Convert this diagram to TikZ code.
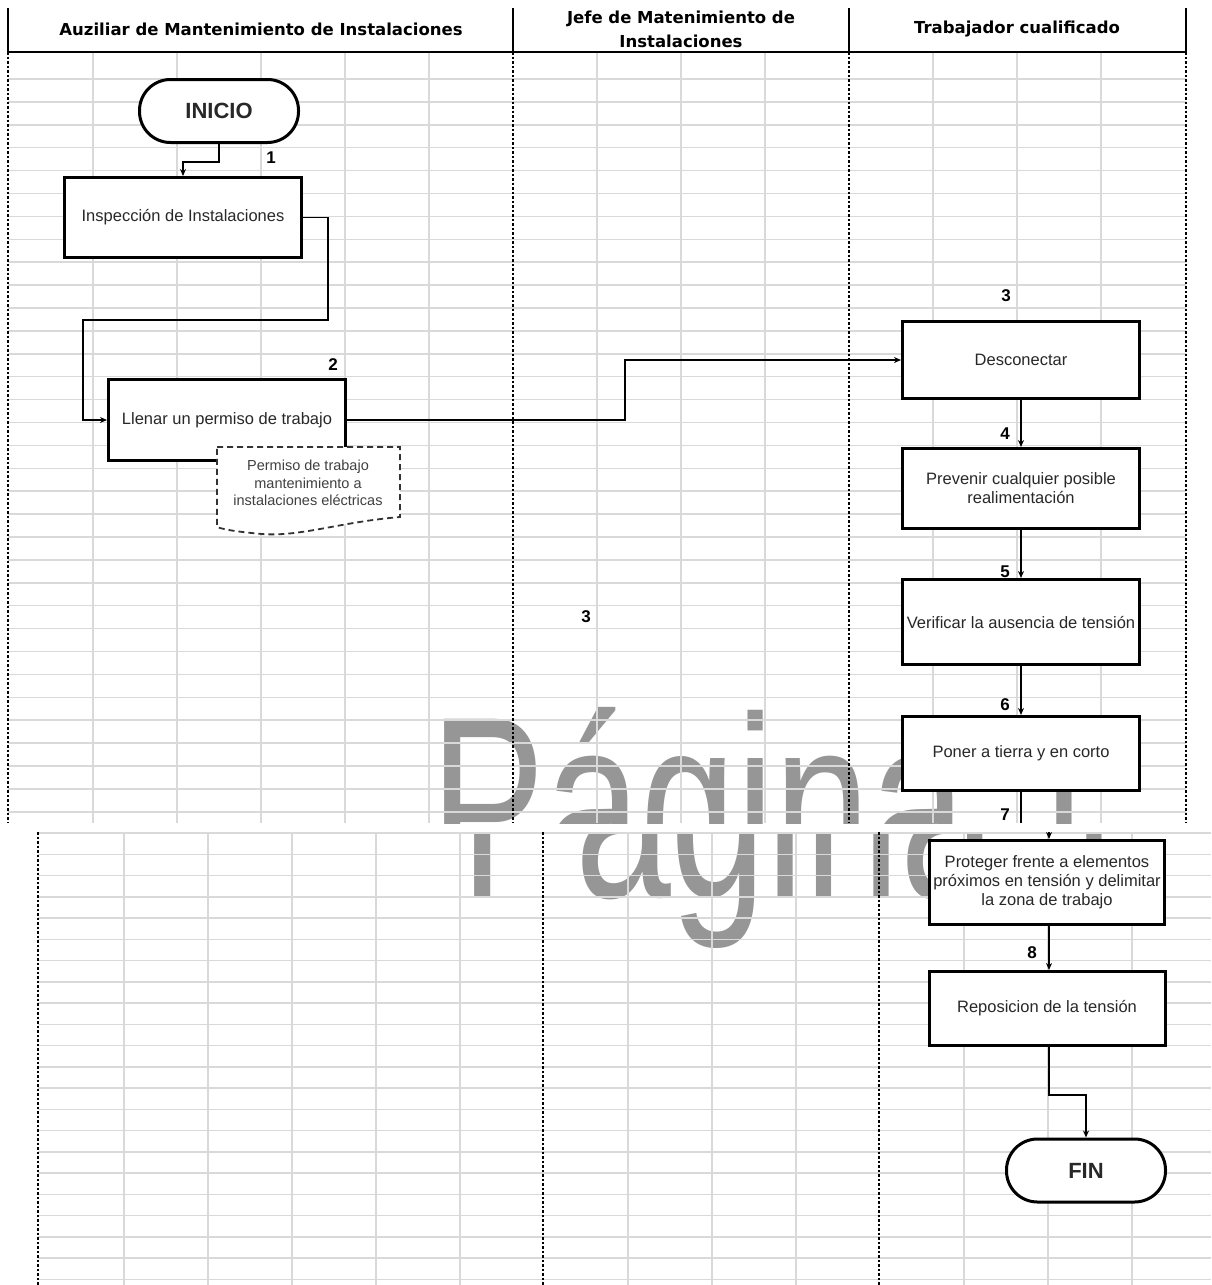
\documentclass[tikz,border=0pt]{standalone}
\usepackage{fontspec}
\setmainfont{Liberation Sans}
\newfontfamily\hdrfont{DejaVu Sans}
\usetikzlibrary{arrows.meta}
\definecolor{gridc}{RGB}{217,217,217}
\definecolor{wmark}{RGB}{150,150,150}
\definecolor{txt}{RGB}{40,40,40}
\tikzset{
  stepbox/.style={draw, line width=3pt, fill=white, inner sep=2pt, align=center,
    font=\fontsize{16.5}{19}\selectfont, text=txt},
  term/.style={draw, line width=3pt, rounded corners=31pt, fill=white,
    minimum width=159pt, minimum height=63pt, font=\fontsize{22}{24}\selectfont\bfseries, text=txt},
  conn/.style={line width=1.5pt, -{Stealth[length=7pt,width=6pt]}},
  plainconn/.style={line width=1.5pt},
  num/.style={font=\fontsize{17}{18}\selectfont\bfseries},
  lane/.style={line width=2pt, dash pattern=on 2.5pt off 2pt},
  gridl/.style={gridc, line width=1.5pt},
  hdr/.style={font=\hdrfont\bfseries\fontsize{16.5}{24}\selectfont, align=center},
  wm/.style={font=\fontsize{246}{246}\selectfont, text=wmark, xscale=0.7, anchor=base west, inner sep=0pt}
}
\begin{document}
\begin{tikzpicture}[x=1pt,y=-1pt]
\useasboundingbox (0,0) rectangle (1211,1285);
\fill[white] (0,0) rectangle (1211,1285);

% ---------- top part ----------
\begin{scope}
  \clip (0,0) rectangle (1211,823);
  \node[wm] (wmtop) at (430,888) {Página 1};
\end{scope}
\foreach \x in {93,177,261,345,429,597,681,765,933,1017,1101}
  \draw[gridl] (\x,52) -- (\x,823);
\foreach \k in {0,...,32}
  \draw[gridl] (8,{79+22.9*\k}) -- (1186,{79+22.9*\k});
\foreach \x in {8,513,849,1186}
  \draw[lane] (\x,52) -- (\x,823);

% ---------- bottom part ----------
\begin{scope}
  \clip (0,832) rectangle (1211,1285);
  \node[wm] (wmbot) at (460,897) {Página 1};
\end{scope}
\foreach \x in {124,208,292,376,460,628,712,796,964,1048,1132}
  \draw[gridl] (\x,832) -- (\x,1285);
\foreach \k in {0,...,21}
  \draw[gridl] (38,{833+21.25*\k}) -- (1211,{833+21.25*\k});
\foreach \x in {38,543,879}
  \draw[lane] (\x,832) -- (\x,1285);

% ---------- header ----------
\foreach \x in {8,513,849,1186}
  \draw[line width=2pt] (\x,8) -- (\x,52);
\draw[line width=2.4pt] (8,52) -- (1186,52);
\node[hdr] (h1) at (261,29) {Auziliar de Mantenimiento de Instalaciones};
\node[hdr] (h2) at (681,29) {Jefe de Matenimiento de\\Instalaciones};
\node[hdr] (h3) at (1017,29) {Trabajador cualificado};

% ---------- nodes ----------
\node[term] (inicio) at (219,111) {INICIO};
\node[stepbox, minimum width=237pt, minimum height=80pt] (b1) at (183,217.5) {Inspección de Instalaciones};
\node[stepbox, minimum width=237pt, minimum height=81pt] (b2) at (227,420) {Llenar un permiso de trabajo};
\draw[line width=1.8pt, dash pattern=on 6pt off 4pt, draw=black!80, fill=white]
  (217,447) -- (400,447) -- (400,517)
  .. controls (340,522) and (300,537) .. (262,534)
  .. controls (240,532) and (225,530) .. (217,527) -- cycle;
\node[align=center, font=\fontsize{14.5}{17.5}\selectfont, text=black!75] (doc) at (308,483)
  {Permiso de trabajo\\mantenimiento a\\instalaciones eléctricas};

\node[stepbox, minimum width=237pt, minimum height=77pt] (b3) at (1021,360) {Desconectar};
\node[stepbox, minimum width=237pt, minimum height=80pt] (b4) at (1021,488.5) {Prevenir cualquier posible\\realimentación};
\node[stepbox, minimum width=237pt, minimum height=85pt, inner sep=0pt] (b5) at (1021,622) {Verificar la ausencia de tensión};
\node[stepbox, minimum width=237pt, minimum height=74pt] (b6) at (1021,753.5) {Poner a tierra y en corto};
\node[stepbox, minimum width=235pt, minimum height=84pt, inner sep=0pt] (b7) at (1047,882.5) {Proteger frente a elementos\\próximos en tensión y delimitar\\la zona de trabajo};
\node[stepbox, minimum width=236pt, minimum height=74pt] (b8) at (1047,1008.5) {Reposicion de la tensión};
\node[term] (fin) at (1086,1170.5) {FIN};

% ---------- numbers ----------
\node[num] (n1) at (271,158) {1};
\node[num] (n2) at (333,365) {2};
\node[num] (n3) at (1006,296) {3};
\node[num] (n3b) at (586,617) {3};
\node[num] (n4) at (1005,434) {4};
\node[num] (n5) at (1005,572) {5};
\node[num] (n6) at (1005,705) {6};
\node[num] (n7) at (1005,815) {7};
\node[num] (n8) at (1032,953) {8};

% ---------- connectors ----------
\draw[conn] (inicio.south) -- ++(0,18) -| (b1.north);
\draw[conn] (b1.east) -- ++(25,0) |- (83,320) |- (b2.west);
\draw[conn] (b2.east) -- (625,420) |- (b3.west);
\draw[conn] (b3.south) -- (b4.north);
\draw[conn] (b4.south) -- (b5.north);
\draw[conn] (b5.south) -- (b6.north);
\coordinate (gaptop) at (1021,823);
\coordinate (gapbot) at (1049,832);
\draw[plainconn] (b6.south) -- (gaptop);
\draw[conn] (gapbot) -- (gapbot |- b7.north);
\draw[conn] (b7.south -| 1049,0) -- (b8.north -| 1049,0);
\draw[conn] (b8.south -| 1049,0) -- ++(0,48) -| (fin.north);
\end{tikzpicture}
\end{document}
